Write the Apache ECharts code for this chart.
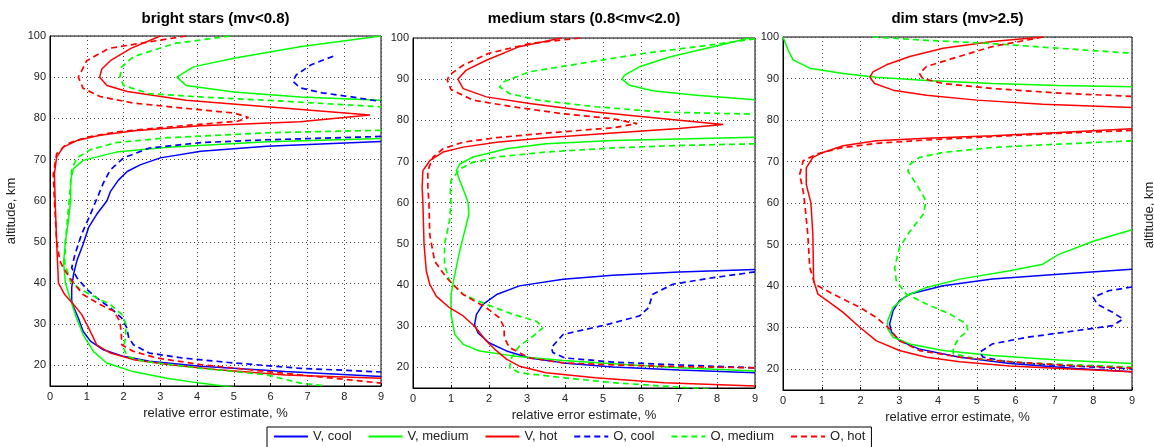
<!DOCTYPE html>
<html>
<head>
<meta charset="utf-8">
<title>relative error estimate vs altitude</title>
<script src="https://cdn.jsdelivr.net/npm/echarts@6.0.0/dist/echarts.min.js"></script>
<style>
  html, body { margin: 0; padding: 0; background: #fff; }
  #chart { width: 1154px; height: 447px; }
</style>
</head>
<body>
<div id="chart"></div>
<script>
// panel titles and legend names
var panelTitles = ['bright stars (mv<0.8)', 'medium stars (0.8<mv<2.0)', 'dim stars (mv>2.5)'];
var seriesNames = ['V, cool', 'V, medium', 'V, hot', 'O, cool', 'O, medium', 'O, hot'];
var xLabel = 'relative error estimate, %';
var yLabel = 'altitude, km';

// points are [error %, altitude km]
// --- bright stars
var bright_vcool = [[9,74.4],[5.9,73.2],[4.1,72],[3.0,70.4],[2.45,68.7],[2.1,67.1],[1.86,65],[1.64,62.2],[1.55,60],[1.27,56.7],[1.05,53.5],[0.9,49.4],[0.73,45.4],[0.64,42.1],[0.59,38.9],[0.59,35.6],[0.65,34],[0.77,31.5],[0.9,28.3],[1.1,25.9],[1.45,23.8],[2.0,22.2],[2.7,21],[4.1,19.8],[6.4,18.5],[9,17.3]];
var bright_vmed_top = [[9,100],[6.8,97.4],[5,94.6],[3.9,92.5],[3.45,90],[3.7,88],[5,86.4],[6.8,85.2],[9,84.4]];
var bright_vmed_low = [[9,75.1],[5.9,74.3],[3.2,73],[1.8,71.8],[0.9,69.8],[0.64,67.8],[0.56,65],[0.56,60],[0.5,55.1],[0.42,50.2],[0.37,45],[0.42,40],[0.54,36.4],[0.72,31.5],[0.9,27.5],[1.18,23.4],[1.54,20.6],[2.26,18.5],[3.17,16.9],[4.08,15.7],[5.07,14.6]];
var bright_vhot = [[3.0,100],[2.2,97],[1.64,94],[1.41,92],[1.35,90],[1.55,88],[2.1,86.5],[3.7,84.4],[5.9,82.8],[8.7,80.8],[6.8,79.2],[4.1,78.2],[2.3,77],[1.36,75.9],[0.73,74.6],[0.36,73],[0.18,70.6],[0.12,66.5],[0.14,60],[0.18,50],[0.23,40],[0.4,37.2],[0.64,34.8],[0.86,32.4],[1.05,29.1],[1.27,25],[1.64,23],[2.27,21.4],[3.2,20.2],[4.5,19],[6.4,17.7],[9,16.9]];
var bright_ocool_top = [[7.7,95.1],[7.1,93],[6.7,90.6],[6.6,89],[6.8,87.4],[7.4,86.2],[8.2,85.2],[9,84.1]];
var bright_ocool_low = [[9,75.6],[5.9,74.8],[4.1,74.1],[2.7,72.8],[2.0,70.4],[1.64,67.5],[1.45,64.3],[1.3,61],[1.25,60],[1.1,56.7],[0.86,51.9],[0.68,47],[0.59,43.7],[0.73,41.3],[1.0,38.5],[1.27,36.4],[1.64,34],[1.95,31.5],[2.09,29.1],[2.14,26.7],[2.27,25],[2.7,23],[3.6,21.8],[5.0,20.6],[6.8,19.3],[9,18.4]];
var bright_omed_top = [[4.9,100],[3.4,98.2],[2.27,95],[1.95,92.5],[1.9,90],[2.0,88],[2.7,86],[4.1,85.2],[5.9,84.4],[9,82.8]];
var bright_omed_low = [[9,77.1],[5.9,76.5],[3.2,75.3],[1.8,74.1],[1.1,72.4],[0.73,70.4],[0.59,67.6],[0.56,64],[0.52,60],[0.47,55],[0.42,50],[0.4,45],[0.55,40.5],[0.82,38.5],[1.27,36.4],[1.64,34.8],[1.95,32.4],[2.07,29.9],[2.05,26.7],[2.0,24.2],[2.1,22.2],[2.55,21],[4.1,19.3],[5.9,17.7],[6.8,15.7],[7.5,15]];
var bright_ohot = [[3.7,100],[1.6,97],[1.0,94],[0.77,90],[0.9,87.3],[1.36,85.3],[2.27,83.7],[3.6,82.5],[5,81.3],[5.4,80.2],[5.1,79.3],[3.2,77.9],[1.8,76.7],[1.0,75.4],[0.45,73.8],[0.18,71.4],[0.09,66.5],[0.12,60],[0.18,50.2],[0.27,45.4],[0.36,43.7],[0.6,40.5],[0.9,37.2],[1.36,34.8],[1.73,33.2],[1.9,30.7],[1.94,27.5],[1.95,25],[2.27,23.4],[2.9,21.8],[4.1,20.2],[5.9,18.5],[7.7,16.9],[9,15.7]];

// --- medium stars
var medium_vcool = [[9,43.8],[7,43.2],[5.26,42.4],[3.95,41.4],[2.8,39.8],[2.2,37.7],[1.84,35.3],[1.67,32.9],[1.62,30.4],[1.71,28.4],[2.0,26],[2.46,24],[3.07,22.3],[3.95,21.1],[5.26,20.1],[7,19.4],[9,18.7]];
var medium_vmed_top = [[8.86,100],[7.9,97.9],[6.75,95.4],[5.96,93],[5.57,91],[5.5,90],[5.7,88.5],[6.3,87.2],[7.46,86.1],[9,85]];
var medium_vmed_low = [[9,75.9],[7,75.5],[5.26,75.1],[3.5,74.3],[2.46,73.1],[1.93,71.9],[1.58,71.1],[1.23,69.4],[1.14,67.8],[1.23,65.4],[1.4,61.4],[1.45,60],[1.47,57.2],[1.36,53.1],[1.23,48.3],[1.1,42.6],[1.0,37.7],[1.0,32.9],[1.1,28],[1.32,25.6],[1.75,24],[2.63,22.8],[3.95,21.7],[5.26,20.9],[7,19.9],[9,19.1]];
var medium_vhot = [[3.9,100],[2.8,97.9],[1.93,94.6],[1.4,92.2],[1.18,90],[1.32,87.7],[1.93,85.7],[3.07,84.1],[4.8,82],[6.6,80.4],[8.16,79],[7.0,78],[5.26,76.9],[3.5,75.8],[2.2,74.7],[1.32,73.5],[0.79,72.3],[0.44,70.2],[0.26,67.8],[0.24,63.7],[0.26,60],[0.29,50],[0.35,43.4],[0.44,40.2],[0.61,37.3],[0.96,34.5],[1.32,32.5],[1.62,30],[1.93,26.4],[2.2,24],[2.46,22],[2.8,20.3],[3.5,18.7],[4.8,17.5],[6.6,16.3],[9,15.5]];
var medium_ocool = [[9,43.2],[7.9,41.8],[6.84,40.2],[6.3,37.7],[6.2,34.5],[5.96,32.5],[5.1,30.4],[3.95,28],[3.64,24.8],[3.68,23.6],[4.0,22.3],[5.26,21.3],[7,20.6],[9,19.9]];
var medium_omed_top = [[9,99.8],[7.5,97.9],[6.1,96.3],[4.4,93.8],[3.07,91.8],[2.37,89.3],[2.28,88.1],[2.54,86.5],[3.3,84.9],[4.8,83.3],[6.6,82],[9,81.5]];
var medium_omed_low = [[9,74.3],[7,73.9],[5.26,73.3],[3.5,72.3],[2.2,71.1],[1.58,69.8],[1.23,68.2],[1.0,65.4],[0.98,62.1],[1.0,60],[0.96,55.5],[0.83,50],[0.83,45],[0.96,41],[1.32,37.7],[1.93,35.3],[2.63,32.9],[3.25,31.2],[3.42,29.6],[3.16,27.6],[2.8,25.2],[2.59,22.3],[2.54,19.9],[2.8,18.7],[3.95,17.5],[5.26,16.3],[7.0,15.2],[7.9,14.7]];
var medium_ohot = [[4.4,100],[3.1,98.7],[2.0,96.3],[1.32,93.4],[0.96,91],[0.9,89.8],[1.0,87.5],[1.58,84.9],[2.63,83.3],[3.95,81.6],[5.26,80.4],[5.9,79.2],[5.26,78.2],[3.5,76.9],[2.2,75.8],[1.32,74.7],[0.79,73.1],[0.53,71.1],[0.39,67.8],[0.39,63.7],[0.42,60],[0.44,52.3],[0.57,45.8],[0.88,41.8],[1.32,37.7],[1.93,34.5],[2.28,32],[2.4,29.6],[2.4,27.2],[2.54,24.8],[3.07,22.3],[3.95,21.1],[5.26,20.6],[7,20.2],[9,19.9]];

// --- dim stars
var dim_vcool = [[9,44.1],[7.1,42.9],[5.4,41.7],[4.13,40.1],[3.27,38.1],[3.0,36.5],[2.84,34.1],[2.75,30.9],[2.8,28.9],[3.0,26.9],[3.5,24.9],[4.56,22.9],[5.85,21.4],[7.57,20.2],[9,19.4]];
var dim_vmed_top = [[0,100],[0.13,96.9],[0.26,94.5],[0.69,92.5],[1.55,91.2],[2.4,90.3],[3.7,89.5],[5.4,88.8],[7.1,88.3],[9,88]];
var dim_vmed_low = [[9,53.6],[8,50.8],[7.1,47.6],[6.7,45.3],[5.85,43.7],[4.56,41.7],[3.7,39.7],[3.18,37.7],[2.84,34.9],[2.7,31.7],[2.7,29.7],[2.84,27.7],[3.27,26.1],[4.13,24.5],[5.4,23.3],[7.1,22.2],[9,21.4]];
var dim_vhot_top = [[6.7,100],[5.4,98.9],[4.13,97.3],[3.27,95.3],[2.67,93.3],[2.32,91.6],[2.24,90.3],[2.36,88.8],[2.84,87.2],[3.7,86],[5.0,84.8],[6.7,83.8],[9,83]];
var dim_vhot_low = [[9,77.9],[7.1,77],[5.4,76.2],[3.7,75.6],[2.4,75],[1.55,73.8],[1.03,72.2],[0.77,71],[0.6,68.5],[0.6,64.5],[0.72,60],[0.77,52.4],[0.79,41.3],[0.9,38.1],[1.2,36.1],[1.55,33.7],[1.98,30.1],[2.4,26.9],[3.0,24.5],[3.7,22.9],[4.56,21.8],[5.85,20.8],[7.57,20],[9,19.4]];
var dim_ocool = [[9,39.8],[8.4,38.9],[8.0,37.3],[8.1,35.7],[8.5,33.7],[8.77,32.1],[8.5,30.5],[7.57,29.3],[6.3,27.7],[5.4,26.1],[5.07,24.1],[5.16,22.9],[5.85,21.7],[7.1,20.9],[9,20.1]];
var dim_omed_top = [[2.32,100],[3.7,99.2],[5.4,98.4],[7.1,97.3],[9,96.1]];
var dim_omed_low = [[9,75],[7.1,74.2],[5.4,73.4],[4.13,72.2],[3.52,71],[3.27,69.3],[3.22,67.7],[3.44,64.5],[3.65,61.2],[3.68,60],[3.61,57.2],[3.27,53.2],[3.0,49.2],[2.88,44.5],[2.92,41.3],[3.18,38.1],[3.7,35.7],[4.3,33.3],[4.73,30.9],[4.77,29.3],[4.56,27.7],[4.39,25.3],[4.39,23.7],[4.99,22.5],[6.28,21.5],[8.0,20.9],[9,20.5]];
var dim_ohot_top = [[6.7,100],[5.4,97.7],[4.4,94.9],[3.7,92.9],[3.52,91.2],[3.6,90],[4.13,88.8],[5.4,87.6],[7.1,86.5],[9,85.7]];
var dim_ohot_low = [[9,77.5],[7.1,76.8],[5.4,76],[3.7,75.2],[2.4,74.4],[1.55,73.4],[0.86,71.8],[0.52,70.2],[0.43,66.9],[0.52,62.9],[0.56,60],[0.64,52.4],[0.69,44.5],[0.82,40.5],[1.29,38.1],[1.98,34.9],[2.4,32.5],[2.75,29.7],[3.0,26.9],[3.52,24.5],[4.56,22.9],[5.85,21.8],[7.57,20.8],[9,20.3]];

var colors = { cool: '#0000ff', medium: '#00ff00', hot: '#ff0000' };
var FONT = 'Liberation Sans, Arial, sans-serif';

// join curve pieces with a gap between them
function pieces() {
  var out = [];
  for (var i = 0; i < arguments.length; i++) {
    if (i > 0) out.push(['-', '-']);
    out = out.concat(arguments[i]);
  }
  return out;
}

function line(name, grid, data, color, dashed) {
  return {
    name: name,
    type: 'line',
    xAxisIndex: grid,
    yAxisIndex: grid,
    data: data,
    symbol: 'none',
    silent: true,
    animation: false,
    lineStyle: { color: color, width: dashed ? 1.7 : 1.5, type: dashed ? [6, 4] : 'solid' },
    itemStyle: { color: color }
  };
}

var panels = [
  { left: 50, top: 36, width: 331, height: 350 },
  { left: 413, top: 38, width: 342, height: 350 },
  { left: 783, top: 37, width: 349, height: 353 }
];

var series = [
  line('V, cool', 0, bright_vcool, colors.cool, false),
  line('V, medium', 0, pieces(bright_vmed_top, bright_vmed_low), colors.medium, false),
  line('V, hot', 0, bright_vhot, colors.hot, false),
  line('O, cool', 0, pieces(bright_ocool_top, bright_ocool_low), colors.cool, true),
  line('O, medium', 0, pieces(bright_omed_top, bright_omed_low), colors.medium, true),
  line('O, hot', 0, bright_ohot, colors.hot, true),

  line('V, cool', 1, medium_vcool, colors.cool, false),
  line('V, medium', 1, pieces(medium_vmed_top, medium_vmed_low), colors.medium, false),
  line('V, hot', 1, medium_vhot, colors.hot, false),
  line('O, cool', 1, medium_ocool, colors.cool, true),
  line('O, medium', 1, pieces(medium_omed_top, medium_omed_low), colors.medium, true),
  line('O, hot', 1, medium_ohot, colors.hot, true),

  line('V, cool', 2, dim_vcool, colors.cool, false),
  line('V, medium', 2, pieces(dim_vmed_top, dim_vmed_low), colors.medium, false),
  line('V, hot', 2, pieces(dim_vhot_top, dim_vhot_low), colors.hot, false),
  line('O, cool', 2, dim_ocool, colors.cool, true),
  line('O, medium', 2, pieces(dim_omed_top, dim_omed_low), colors.medium, true),
  line('O, hot', 2, pieces(dim_ohot_top, dim_ohot_low), colors.hot, true)
];

var grids = [], xAxes = [], yAxes = [], graphics = [];
panels.forEach(function (p, i) {
  grids.push({ left: p.left, top: p.top, width: p.width, height: p.height,
    show: true, borderColor: '#000', borderWidth: 1, backgroundColor: '#fff' });
  xAxes.push({
    type: 'value', gridIndex: i, min: 0, max: 9, interval: 1,
    name: xLabel, nameLocation: 'middle', nameGap: 20,
    nameTextStyle: { fontFamily: FONT, fontSize: 13, color: '#222' },
    axisLine: { show: true, onZero: false, lineStyle: { color: '#000' } },
    axisTick: { show: true, inside: true, length: 3, lineStyle: { color: '#000' } },
    axisLabel: { fontFamily: FONT, fontSize: 11, color: '#222', margin: 5 },
    splitLine: { show: true, lineStyle: { color: '#444', type: [1, 3], width: 1 } }
  });
  yAxes.push({
    type: 'value', gridIndex: i, min: 15, max: 100, interval: 5,
    name: i === 0 ? yLabel : '', nameLocation: 'middle', nameGap: 32, nameRotate: 90,
    nameTextStyle: { fontFamily: FONT, fontSize: 13, color: '#222' },
    axisLine: { show: true, onZero: false, lineStyle: { color: '#000' } },
    axisTick: { show: false },
    axisLabel: { fontFamily: FONT, fontSize: 11, color: '#222', margin: 4,
      formatter: function (v) { return v % 10 === 0 ? String(v) : ''; } },
    splitLine: { show: true, lineStyle: { color: ['rgba(0,0,0,0)', '#444'], type: [1, 3], width: 1 } }
  });
  graphics.push({
    type: 'text', x: p.left + p.width / 2, y: 19, silent: true,
    style: { text: panelTitles[i], fill: '#000', font: 'bold 15px ' + FONT,
      textAlign: 'center', textVerticalAlign: 'middle', align: 'center', verticalAlign: 'middle' }
  });
});

// y label of a fourth panel, cut by the right edge
graphics.push({
  type: 'text', x: 1149, y: 215, rotation: Math.PI / 2, silent: true,
  style: { text: yLabel, fill: '#222', font: '13px ' + FONT,
    textAlign: 'center', textVerticalAlign: 'middle', align: 'center', verticalAlign: 'middle' }
});

var chart = echarts.init(document.getElementById('chart'), null, { renderer: 'canvas' });
chart.setOption({
  animation: false,
  backgroundColor: '#fff',
  textStyle: { fontFamily: FONT },
  grid: grids,
  xAxis: xAxes,
  yAxis: yAxes,
  graphic: graphics,
  legend: {
    data: seriesNames,
    left: 267, top: 427,
    itemWidth: 34, itemHeight: 14, itemGap: 16,
    padding: [3, 6, 10, 6],
    borderColor: '#000', borderWidth: 1, backgroundColor: '#fff',
    selectedMode: false,
    itemStyle: { opacity: 0 },
    textStyle: { fontFamily: FONT, fontSize: 13, color: '#222' }
  },
  series: series
});
</script>
</body>
</html>
